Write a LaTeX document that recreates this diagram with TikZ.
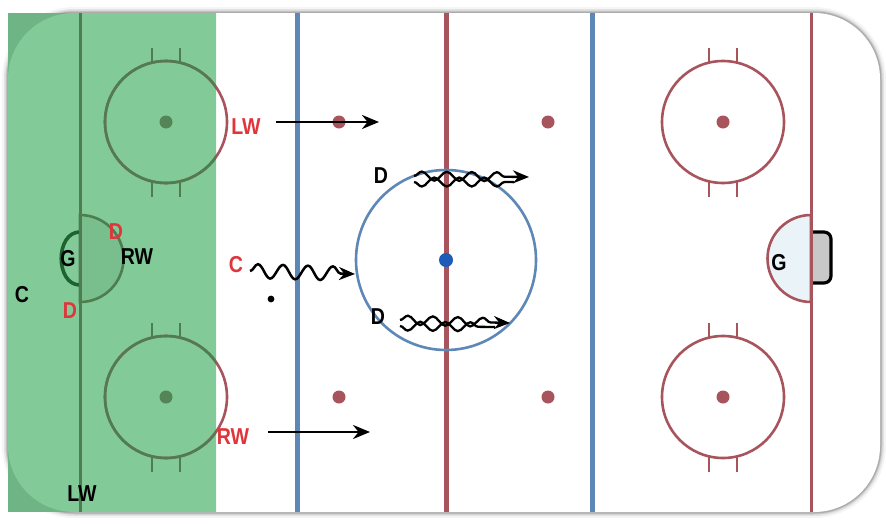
\documentclass[tikz,border=0pt]{standalone}
\usepackage{fontspec}
\setmainfont{Liberation Sans}
\newfontfamily\lblfont[FakeStretch=0.85]{Liberation Sans}
\usetikzlibrary{decorations.pathmorphing,arrows.meta}
\definecolor{rinkred}{HTML}{A8545C}
\definecolor{rinkblue}{HTML}{5D87B6}
\definecolor{zonegreen}{HTML}{82CA98}
\definecolor{zonegreendark}{HTML}{6FB485}
\definecolor{creasegreen}{HTML}{78BF8D}
\definecolor{linegreen}{HTML}{4E7D50}
\definecolor{netgreen}{HTML}{1E6230}
\definecolor{labelred}{HTML}{E0353A}
\definecolor{creaseblue}{HTML}{EAF3F8}
\definecolor{centerdot}{HTML}{1F5CB8}
\definecolor{netgray}{HTML}{C8C8C8}
\tikzset{
  lbl/.style={font=\lblfont\bfseries\fontsize{23pt}{23pt}\selectfont, inner sep=0pt},
  redlbl/.style={lbl, text=labelred},
  blacklbl/.style={lbl, text=black},
  arrowline/.style={line width=2.6pt, -{Stealth[length=17pt,width=14pt]}},
  wavy/.style={line width=2.5pt, -{Stealth[length=16pt,width=13pt]}, decorate,
    decoration={snake, amplitude=7pt, segment length=25pt, post length=14pt}},
  wavyA/.style={line width=2.3pt, -{Stealth[length=16pt,width=13pt]}, decorate,
    decoration={snake, amplitude=4.5pt, segment length=25pt, post length=16pt}},
  wavyB/.style={line width=2.3pt, decorate,
    decoration={snake, amplitude=-4.5pt, segment length=25pt, post length=8pt}},
}
\newcommand\faceoff[3]{%
  \draw[#3, line width=2.6pt] (#1,#2) circle (61);
  \draw[#3, line width=2.6pt] (#1-14,#2-59) -- (#1-14,#2-74)
                            (#1+14,#2-59) -- (#1+14,#2-74)
                            (#1-14,#2+59) -- (#1-14,#2+75)
                            (#1+14,#2+59) -- (#1+14,#2+75);
}
\begin{document}
\begin{tikzpicture}[x=1pt,y=-1pt]
\useasboundingbox (0,0) rectangle (886,525);
\fill[white] (0,0) rectangle (886,525);
% shadow
\foreach \w/\o in {12/0.04,8/0.07,5/0.1,3/0.15}
  \draw[line width=\w pt, black, opacity=\o, rounded corners=66pt] (8,13) rectangle (880,512);
\fill[white, rounded corners=66pt] (8,13) rectangle (880,512);
% green zone
\fill[zonegreendark] (8,13) rectangle (216,512);
\begin{scope}
  \clip (8,13) rectangle (216,512);
  \fill[zonegreen, rounded corners=66pt] (8,13) rectangle (880,512);
\end{scope}
% lines
\draw[rinkred, line width=3pt] (80,13) -- (80,512);
\draw[rinkred, line width=3pt] (811,13) -- (811,512);
\draw[rinkblue, line width=5pt] (297,13) -- (297,512);
\draw[rinkblue, line width=5pt] (592,13) -- (592,512);
\draw[rinkred, line width=5pt] (446,13) -- (446,512);
% faceoff circles
\faceoff{166}{122}{rinkred}
\faceoff{166}{397}{rinkred}
\faceoff{723}{122}{rinkred}
\faceoff{723}{397}{rinkred}
\foreach \x/\y in {723/122,723/397,339/122,548/122,339/397,548/397}
  \fill[rinkred] (\x,\y) circle (6.5);
% center circle
\draw[rinkblue, line width=2.6pt] (446,260) circle (90);
\fill[centerdot] (446,260) circle (7);
% right crease and net
\filldraw[fill=creaseblue, draw=rinkred, line width=2.6pt] (811,215) arc (270:90:43.5) -- cycle;
\filldraw[fill=netgray, draw=black, line width=3.2pt, rounded corners=7pt] (811,232) -- (831,232) -- (831,283) -- (811,283);
\draw[rinkred, line width=3pt] (811,200) -- (811,310);
% left zone markings in green
\begin{scope}
  \clip (8,13) rectangle (216,512);
  \draw[linegreen, line width=3pt] (80,13) -- (80,512);
  \faceoff{166}{122}{linegreen}
  \faceoff{166}{397}{linegreen}
  \fill[linegreen!90!zonegreen] (166,122) circle (6.5);
  \fill[linegreen!90!zonegreen] (166,397) circle (6.5);
  \filldraw[fill=creasegreen, draw=linegreen, line width=2.6pt] (80,215) arc (-90:90:43.5) -- cycle;
  \draw[netgreen, line width=3.6pt] (80,232) .. controls (55,232) and (55,285) .. (80,285);
  \draw[linegreen, line width=3pt] (80,200) -- (80,310);
\end{scope}
% labels
\node[redlbl] (lwR) at (246,127) {LW};
\node[redlbl] (dR1) at (116,232) {D};
\node[blacklbl] (gL) at (68,259) {G};
\node[blacklbl] (rwB) at (137,257) {RW};
\node[blacklbl] (cB) at (22,295) {C};
\node[redlbl] (dR2) at (70,311) {D};
\node[redlbl] (rwR) at (233,437) {RW};
\node[blacklbl] (lwB) at (82,494) {LW};
\node[redlbl] (cR) at (236,265) {C};
\node[blacklbl] (dT) at (381,176) {D};
\node[blacklbl] (dBo) at (378,317) {D};
\node[blacklbl] (gR) at (779,263) {G};
\fill[black] (271,299) circle (3.4) coordinate (puck);
% arrows
\coordinate (lwS) at (276,122); \coordinate (lwE) at (379,122);
\draw[arrowline] (lwS) -- (lwE);
\coordinate (rwS) at (268,432); \coordinate (rwE) at (370,432);
\draw[arrowline] (rwS) -- (rwE);
\coordinate (cS) at (250,271); \coordinate (cE) at (355,274);
\draw[wavy] (cS) -- (cE);
\coordinate (dtS) at (414,176); \coordinate (dtE) at (529,177);
\coordinate (dtS2) at (414,182); \coordinate (dtE2) at (514,182);
\draw[wavyA] (dtS) -- (dtE);
\draw[wavyB] (dtS2) -- (dtE2);
\coordinate (dbS) at (400,320); \coordinate (dbE) at (510,323);
\coordinate (dbS2) at (400,326); \coordinate (dbE2) at (495,327);
\draw[wavyA] (dbS) -- (dbE);
\draw[wavyB] (dbS2) -- (dbE2);
\end{tikzpicture}
\end{document}
